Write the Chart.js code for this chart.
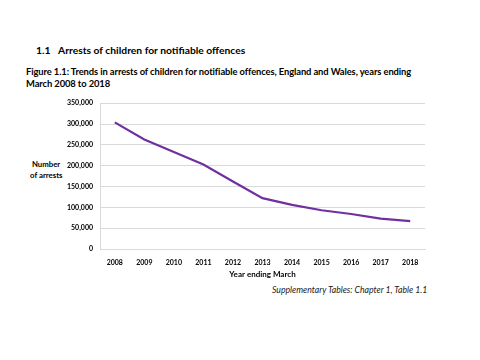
<!DOCTYPE html>
<html>
<head>
<meta charset="utf-8">
<script src="https://cdn.jsdelivr.net/npm/chart.js"></script>
<style>
  body { margin: 0; width: 480px; height: 360px; background: #fff; font-family: Lato, "Open Sans", sans-serif; color: #000; position: relative; overflow: hidden; }
  .t { position: absolute; white-space: nowrap; }
  #wrap { position: absolute; left: 60px; top: 92px; width: 380px; height: 187px; }
</style>
</head>
<body>
<div class="t" style="left:36px;top:44px;font-size:10.3px;font-weight:bold;">1.1</div>
<div class="t" style="left:58px;top:44px;font-size:10.3px;font-weight:bold;">Arrests of children for notifiable offences</div>
<div class="t" style="left:26px;top:66px;font-size:9.4px;font-weight:bold;line-height:12px;letter-spacing:-0.1px;">Figure 1.1: Trends in arrests of children for notifiable offences, England and Wales, years ending<br>March 2008 to 2018</div>
<div class="t" style="left:30px;top:159px;font-size:7.8px;font-weight:bold;line-height:11px;">&nbsp;Number<br>of arrests</div>
<div class="t" style="left:272px;top:284px;font-size:8.7px;font-style:italic;color:#222;">Supplementary Tables: Chapter 1, Table 1.1</div>
<div id="wrap"><canvas id="c"></canvas></div>
<script>
// Années (fin mars)
const years = ['2008', '2009', '2010', '2011', '2012', '2013', '2014', '2015', '2016', '2017', '2018'];
// Nombre d'arrestations
const arrests = [304000, 263000, 233000, 203000, 162000, 122000, 106000, 93000, 84000, 73000, 67000];

new Chart(document.getElementById('c'), {
  type: 'line',
  data: {
    labels: years,
    datasets: [{
      data: arrests,
      borderColor: '#7030a0',
      borderWidth: 2.2,
      pointRadius: 0,
      tension: 0,
      fill: false
    }]
  },
  options: {
    responsive: true,
    maintainAspectRatio: false,
    animation: false,
    layout: { padding: { top: 6, right: 15, bottom: 0, left: 0 } },
    plugins: {
      legend: { display: false },
      tooltip: { enabled: false }
    },
    scales: {
      x: {
        offset: true,
        grid: { display: false },
        border: { color: '#d9d9d9' },
        ticks: { color: '#000', font: { family: 'Lato', size: 7, weight: 'bold' }, padding: 2, maxRotation: 0 },
        title: { display: true, text: 'Year ending March', color: '#000', font: { family: 'Lato', size: 8, weight: 'bold' }, padding: { top: 0, bottom: 0 } }
      },
      y: {
        min: 0,
        max: 350000,
        afterFit: s => { s.width = 40; },
        grid: { color: '#d9d9d9', drawTicks: false },
        border: { color: '#d9d9d9' },
        ticks: {
          stepSize: 50000,
          color: '#000',
          padding: 7,
          font: { family: 'Lato', size: 7, weight: 'bold' },
          callback: v => v.toLocaleString('en-GB')
        }
      }
    }
  }
});
</script>
</body>
</html>
